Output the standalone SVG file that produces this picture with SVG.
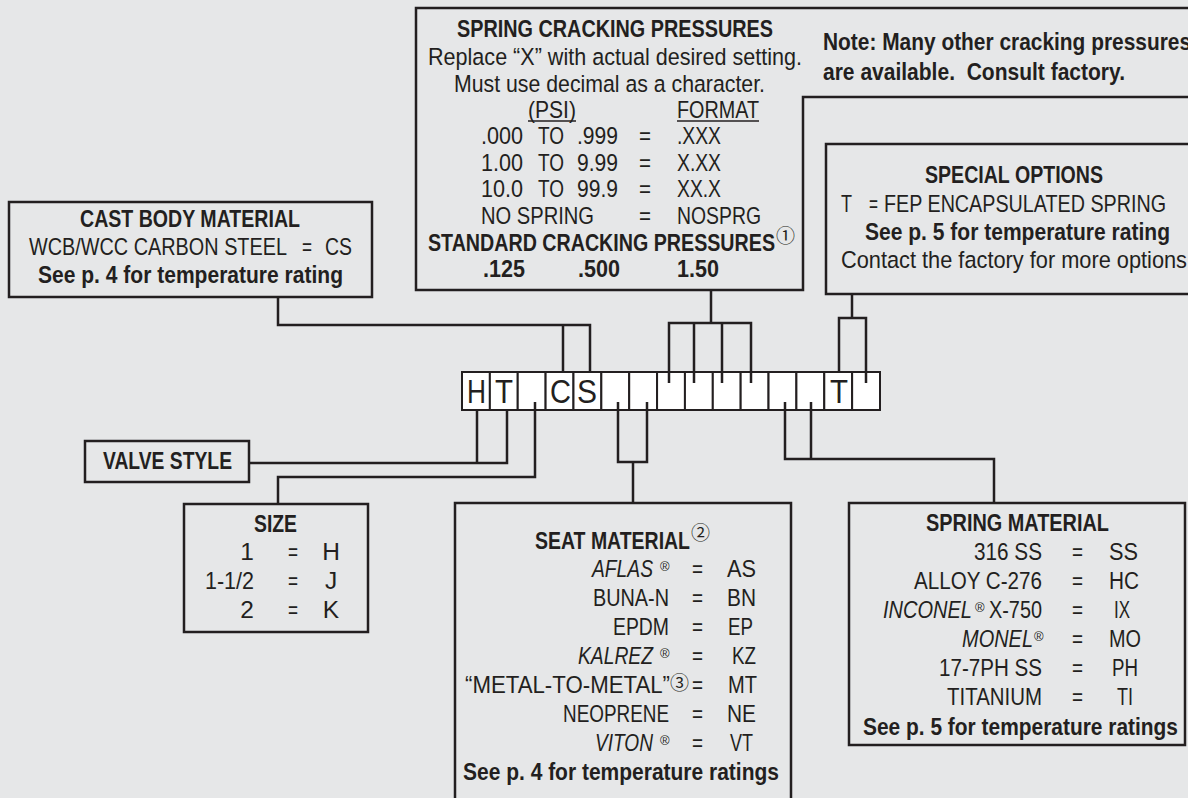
<svg xmlns="http://www.w3.org/2000/svg" width="1188" height="798" viewBox="0 0 1188 798">
<style>
.t{font-family:"Liberation Sans",Arial,sans-serif;font-size:24.5px;fill:#231f20}
.b{font-weight:bold}
.i{font-style:italic}
.ln{stroke:#231f20;stroke-width:2.5;fill:none}
.bx{stroke:#231f20;stroke-width:2.5;fill:none}
.cc{font-family:"Noto Sans CJK JP","DejaVu Sans",sans-serif;font-size:19px;fill:#231f20}
.rg{font-family:"Liberation Sans",Arial,sans-serif;font-size:13px;fill:#231f20}
.cell{fill:#ffffff;stroke:#231f20;stroke-width:2}
.big{font-family:"Liberation Sans",Arial,sans-serif;font-size:33px;fill:#231f20}
</style>
<rect x="0" y="0" width="1188" height="798" fill="#e6e7e8"/>

<g id="spring-cracking">
<path class="bx" d="M1192,8 H416 V290 H803 V97 H1192"/>
<text class="t b" x="457" y="37" textLength="316" lengthAdjust="spacingAndGlyphs">SPRING CRACKING PRESSURES</text>
<text class="t" x="428" y="65" textLength="374" lengthAdjust="spacingAndGlyphs">Replace “X” with actual desired setting.</text>
<text class="t" x="454" y="92" textLength="311" lengthAdjust="spacingAndGlyphs">Must use decimal as a character.</text>
<text class="t" x="528" y="118" textLength="48" lengthAdjust="spacingAndGlyphs">(PSI)</text>
<text class="t" x="677" y="118" textLength="82" lengthAdjust="spacingAndGlyphs">FORMAT</text>
<line x1="528" y1="121" x2="576" y2="121" stroke="#231f20" stroke-width="1.5"/>
<line x1="677" y1="121" x2="759" y2="121" stroke="#231f20" stroke-width="1.5"/>
<text class="t" x="481" y="144" textLength="42" lengthAdjust="spacingAndGlyphs">.000</text>
<text class="t" x="538" y="144" textLength="26" lengthAdjust="spacingAndGlyphs">TO</text>
<text class="t" x="577" y="144" textLength="41" lengthAdjust="spacingAndGlyphs">.999</text>
<text class="t" x="639" y="144" textLength="12" lengthAdjust="spacingAndGlyphs">=</text>
<text class="t" x="677" y="144" textLength="44" lengthAdjust="spacingAndGlyphs">.XXX</text>
<text class="t" x="481" y="171" textLength="42" lengthAdjust="spacingAndGlyphs">1.00</text>
<text class="t" x="538" y="171" textLength="26" lengthAdjust="spacingAndGlyphs">TO</text>
<text class="t" x="577" y="171" textLength="41" lengthAdjust="spacingAndGlyphs">9.99</text>
<text class="t" x="639" y="171" textLength="12" lengthAdjust="spacingAndGlyphs">=</text>
<text class="t" x="677" y="171" textLength="44" lengthAdjust="spacingAndGlyphs">X.XX</text>
<text class="t" x="481" y="197" textLength="42" lengthAdjust="spacingAndGlyphs">10.0</text>
<text class="t" x="538" y="197" textLength="26" lengthAdjust="spacingAndGlyphs">TO</text>
<text class="t" x="577" y="197" textLength="41" lengthAdjust="spacingAndGlyphs">99.9</text>
<text class="t" x="639" y="197" textLength="12" lengthAdjust="spacingAndGlyphs">=</text>
<text class="t" x="677" y="197" textLength="44" lengthAdjust="spacingAndGlyphs">XX.X</text>
<text class="t" x="481" y="224" textLength="113" lengthAdjust="spacingAndGlyphs">NO SPRING</text>
<text class="t" x="639" y="224" textLength="12" lengthAdjust="spacingAndGlyphs">=</text>
<text class="t" x="677" y="224" textLength="84" lengthAdjust="spacingAndGlyphs">NOSPRG</text>
<text class="t b" x="428" y="251" textLength="347" lengthAdjust="spacingAndGlyphs">STANDARD CRACKING PRESSURES</text>
<text class="cc" x="776" y="243">①</text>
<text class="t b" x="483" y="277" textLength="42" lengthAdjust="spacingAndGlyphs">.125</text>
<text class="t b" x="578" y="277" textLength="42" lengthAdjust="spacingAndGlyphs">.500</text>
<text class="t b" x="677" y="277" textLength="42" lengthAdjust="spacingAndGlyphs">1.50</text>
</g>

<g id="note">
<text class="t b" x="823" y="50" textLength="368" lengthAdjust="spacingAndGlyphs">Note: Many other cracking pressures</text>
<text class="t b" x="823" y="80" textLength="302" lengthAdjust="spacingAndGlyphs">are available.&#160; Consult factory.</text>
</g>

<g id="special-options">
<path class="bx" d="M1192,144 H826 V294 H1192"/>
<text class="t b" x="925" y="183" textLength="178" lengthAdjust="spacingAndGlyphs">SPECIAL OPTIONS</text>
<text class="t" x="841" y="212" textLength="11" lengthAdjust="spacingAndGlyphs">T</text>
<text class="t" x="869" y="212" textLength="9" lengthAdjust="spacingAndGlyphs">=</text>
<text class="t" x="884" y="212" textLength="282" lengthAdjust="spacingAndGlyphs">FEP ENCAPSULATED SPRING</text>
<text class="t b" x="865" y="240" textLength="305" lengthAdjust="spacingAndGlyphs">See p. 5 for temperature rating</text>
<text class="t" x="841" y="268" textLength="346" lengthAdjust="spacingAndGlyphs">Contact the factory for more options</text>
</g>

<g id="cast-body">
<rect class="bx" x="9" y="202" width="363" height="95"/>
<text class="t b" x="80" y="227" textLength="220" lengthAdjust="spacingAndGlyphs">CAST BODY MATERIAL</text>
<text class="t" x="29" y="255" textLength="258" lengthAdjust="spacingAndGlyphs">WCB/WCC CARBON STEEL</text>
<text class="t" x="302" y="255" textLength="10" lengthAdjust="spacingAndGlyphs">=</text>
<text class="t" x="325" y="255" textLength="27" lengthAdjust="spacingAndGlyphs">CS</text>
<text class="t b" x="38" y="283" textLength="305" lengthAdjust="spacingAndGlyphs">See p. 4 for temperature rating</text>
</g>

<g id="valve-style">
<rect class="bx" x="85" y="441" width="164" height="41"/>
<text class="t b" x="103" y="469" textLength="129" lengthAdjust="spacingAndGlyphs">VALVE STYLE</text>
</g>

<g id="size">
<rect class="bx" x="184" y="504" width="184" height="128"/>
<text class="t b" x="254" y="532" textLength="43" lengthAdjust="spacingAndGlyphs">SIZE</text>
<text class="t" x="254" y="560" text-anchor="end">1</text>
<text class="t" x="288" y="560" textLength="10" lengthAdjust="spacingAndGlyphs">=</text>
<text class="t" x="331" y="560" text-anchor="middle">H</text>
<text class="t" x="205" y="589" textLength="49" lengthAdjust="spacingAndGlyphs">1-1/2</text>
<text class="t" x="288" y="589" textLength="10" lengthAdjust="spacingAndGlyphs">=</text>
<text class="t" x="331" y="589" text-anchor="middle">J</text>
<text class="t" x="254" y="618" text-anchor="end">2</text>
<text class="t" x="288" y="618" textLength="10" lengthAdjust="spacingAndGlyphs">=</text>
<text class="t" x="331" y="618" text-anchor="middle">K</text>
</g>

<g id="seat-material">
<path class="bx" d="M455,800 V503 H791 V800"/>
<text class="t b" x="535" y="549" textLength="155" lengthAdjust="spacingAndGlyphs">SEAT MATERIAL</text>
<text class="cc" x="691" y="540">②</text>
<text class="t i" x="592" y="577" textLength="61" lengthAdjust="spacingAndGlyphs">AFLAS</text>
<text class="rg" x="660" y="571">®</text>
<text class="t" x="692" y="577" textLength="11" lengthAdjust="spacingAndGlyphs">=</text>
<text class="t" x="727" y="577" textLength="29" lengthAdjust="spacingAndGlyphs">AS</text>
<text class="t" x="593" y="606" textLength="76" lengthAdjust="spacingAndGlyphs">BUNA-N</text>
<text class="t" x="692" y="606" textLength="11" lengthAdjust="spacingAndGlyphs">=</text>
<text class="t" x="727" y="606" textLength="29" lengthAdjust="spacingAndGlyphs">BN</text>
<text class="t" x="613" y="635" textLength="56" lengthAdjust="spacingAndGlyphs">EPDM</text>
<text class="t" x="692" y="635" textLength="11" lengthAdjust="spacingAndGlyphs">=</text>
<text class="t" x="728" y="635" textLength="25" lengthAdjust="spacingAndGlyphs">EP</text>
<text class="t i" x="578" y="664" textLength="75" lengthAdjust="spacingAndGlyphs">KALREZ</text>
<text class="rg" x="660" y="658">®</text>
<text class="t" x="692" y="664" textLength="11" lengthAdjust="spacingAndGlyphs">=</text>
<text class="t" x="732" y="664" textLength="24" lengthAdjust="spacingAndGlyphs">KZ</text>
<text class="t" x="465" y="693" textLength="205" lengthAdjust="spacingAndGlyphs">“METAL-TO-METAL”</text>
<text class="cc" x="670" y="690">③</text>
<text class="t" x="692" y="693" textLength="11" lengthAdjust="spacingAndGlyphs">=</text>
<text class="t" x="728" y="693" textLength="29" lengthAdjust="spacingAndGlyphs">MT</text>
<text class="t" x="563" y="722" textLength="106" lengthAdjust="spacingAndGlyphs">NEOPRENE</text>
<text class="t" x="692" y="722" textLength="11" lengthAdjust="spacingAndGlyphs">=</text>
<text class="t" x="727" y="722" textLength="29" lengthAdjust="spacingAndGlyphs">NE</text>
<text class="t i" x="595" y="751" textLength="58" lengthAdjust="spacingAndGlyphs">VITON</text>
<text class="rg" x="660" y="745">®</text>
<text class="t" x="692" y="751" textLength="11" lengthAdjust="spacingAndGlyphs">=</text>
<text class="t" x="730" y="751" textLength="23" lengthAdjust="spacingAndGlyphs">VT</text>
<text class="t b" x="463" y="780" textLength="316" lengthAdjust="spacingAndGlyphs">See p. 4 for temperature ratings</text>
</g>

<g id="spring-material">
<rect class="bx" x="849" y="503" width="336" height="242"/>
<text class="t b" x="926" y="531" textLength="183" lengthAdjust="spacingAndGlyphs">SPRING MATERIAL</text>
<text class="t" x="974" y="560" textLength="68" lengthAdjust="spacingAndGlyphs">316 SS</text>
<text class="t" x="1072" y="560" textLength="11" lengthAdjust="spacingAndGlyphs">=</text>
<text class="t" x="1109" y="560" textLength="29" lengthAdjust="spacingAndGlyphs">SS</text>
<text class="t" x="914" y="589" textLength="128" lengthAdjust="spacingAndGlyphs">ALLOY C-276</text>
<text class="t" x="1072" y="589" textLength="11" lengthAdjust="spacingAndGlyphs">=</text>
<text class="t" x="1109" y="589" textLength="30" lengthAdjust="spacingAndGlyphs">HC</text>
<text class="t i" x="883" y="618" textLength="89" lengthAdjust="spacingAndGlyphs">INCONEL</text>
<text class="rg" x="975" y="612">®</text>
<text class="t" x="989" y="618" textLength="53" lengthAdjust="spacingAndGlyphs">X-750</text>
<text class="t" x="1072" y="618" textLength="11" lengthAdjust="spacingAndGlyphs">=</text>
<text class="t" x="1114" y="618" textLength="16" lengthAdjust="spacingAndGlyphs">IX</text>
<text class="t i" x="962" y="647" textLength="71" lengthAdjust="spacingAndGlyphs">MONEL</text>
<text class="rg" x="1034" y="641">®</text>
<text class="t" x="1072" y="647" textLength="11" lengthAdjust="spacingAndGlyphs">=</text>
<text class="t" x="1109" y="647" textLength="32" lengthAdjust="spacingAndGlyphs">MO</text>
<text class="t" x="939" y="676" textLength="103" lengthAdjust="spacingAndGlyphs">17-7PH SS</text>
<text class="t" x="1072" y="676" textLength="11" lengthAdjust="spacingAndGlyphs">=</text>
<text class="t" x="1112" y="676" textLength="26" lengthAdjust="spacingAndGlyphs">PH</text>
<text class="t" x="947" y="705" textLength="95" lengthAdjust="spacingAndGlyphs">TITANIUM</text>
<text class="t" x="1072" y="705" textLength="11" lengthAdjust="spacingAndGlyphs">=</text>
<text class="t" x="1117" y="705" textLength="16" lengthAdjust="spacingAndGlyphs">TI</text>
<text class="t b" x="863" y="735" textLength="315" lengthAdjust="spacingAndGlyphs">See p. 5 for temperature ratings</text>
</g>

<g id="code">
<rect class="cell" x="462" y="372" width="27.87" height="38"/>
<rect class="cell" x="489.87" y="372" width="27.87" height="38"/>
<rect class="cell" x="517.73" y="372" width="27.87" height="38"/>
<rect class="cell" x="545.6" y="372" width="27.87" height="38"/>
<rect class="cell" x="573.47" y="372" width="27.87" height="38"/>
<rect class="cell" x="601.33" y="372" width="27.87" height="38"/>
<rect class="cell" x="629.2" y="372" width="27.87" height="38"/>
<rect class="cell" x="657.07" y="372" width="27.87" height="38"/>
<rect class="cell" x="684.93" y="372" width="27.87" height="38"/>
<rect class="cell" x="712.8" y="372" width="27.87" height="38"/>
<rect class="cell" x="740.67" y="372" width="27.87" height="38"/>
<rect class="cell" x="768.53" y="372" width="27.87" height="38"/>
<rect class="cell" x="796.4" y="372" width="27.87" height="38"/>
<rect class="cell" x="824.27" y="372" width="27.87" height="38"/>
<rect class="cell" x="852.13" y="372" width="27.87" height="38"/>
<text class="big" x="467" y="403" textLength="19" lengthAdjust="spacingAndGlyphs">H</text>
<text class="big" x="495" y="403" textLength="18" lengthAdjust="spacingAndGlyphs">T</text>
<text class="big" x="550" y="403" textLength="21" lengthAdjust="spacingAndGlyphs">C</text>
<text class="big" x="577" y="403" textLength="20" lengthAdjust="spacingAndGlyphs">S</text>
<text class="big" x="830" y="403" textLength="18" lengthAdjust="spacingAndGlyphs">T</text>
</g>

<g id="connectors" class="ln">
<path d="M278,297 V325 H590 V372 M563,325 V372"/>
<path d="M711,290 V323 M669,383 V323 H751 V383 M694,323 V383 M722,323 V383"/>
<path d="M852,294 V318 M839,372 V318 H866 V383"/>
<path d="M249,463 H507 V410 M477,410 V463"/>
<path d="M535,402 V477 H278 V504"/>
<path d="M618,402 V462 H647 V402 M633,462 V503"/>
<path d="M785,402 V459 H994 V503 M811,402 V459"/>
</g>
</svg>
